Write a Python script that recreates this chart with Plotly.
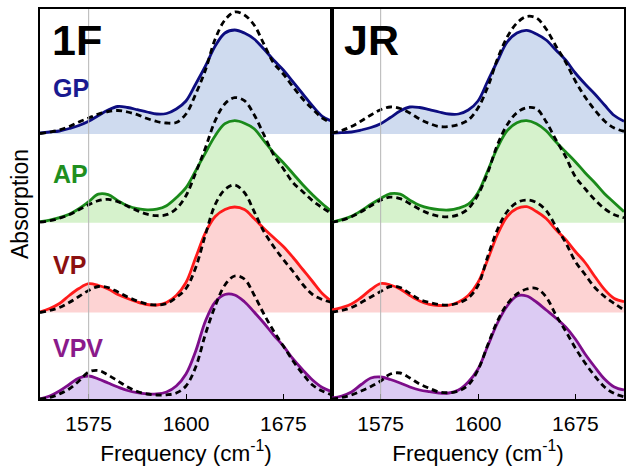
import plotly.graph_objects as go
from plotly.subplots import make_subplots

# Frequency grid (cm^-1)
freq = list(range(1550, 1701, 5))

panels = ["1F", "JR"]
series_names = ["GP", "AP", "VP", "VPV"]
tick_vals = [1575, 1625, 1675]
tick_text = ["1575", "1600", "1675"]

# Absorption (a.u.), solid = experiment, dashed = simulation
f1_gp_solid = [1, 2, 3, 5.5, 8.5, 12.7, 18.5, 24, 27.5, 26.5, 24.3, 22, 20, 20.5, 25, 33, 50, 68, 88, 101, 104, 101, 95, 85, 74, 64, 52, 40, 28, 17.7, 12.7]
f1_gp_dash = [0.5, 2, 4, 7.5, 12, 16, 20, 22.5, 23.5, 22, 19.3, 15.5, 12.5, 11, 11.5, 20, 40, 64, 95, 114, 122, 119, 109, 90, 71, 60, 47, 35, 25, 16, 11]
f1_ap_solid = [1, 2.5, 5, 8.5, 14, 21, 28.5, 28, 22, 17, 14, 12.8, 13.5, 17, 25, 35, 52, 70, 87, 99, 102, 99.5, 94, 82, 70, 60, 49, 38, 28, 19, 11]
f1_ap_dash = [0.5, 2, 4.5, 8, 13, 18, 22, 23.4, 21, 16.5, 12, 8.5, 7, 8, 14, 27, 50, 75, 102, 119, 125, 122, 108, 88, 68, 54, 40, 31, 22, 15, 9]
f1_vp_solid = [0.5, 4, 9, 17, 24, 28.8, 27, 23.5, 18, 14, 10.5, 8, 7.5, 10, 17, 30, 55, 80, 96, 103, 105.5, 103, 94, 84, 75, 66, 55, 43, 31, 19, 11]
f1_vp_dash = [0, 2, 5, 10, 16, 22, 26, 25, 20.5, 15.5, 11.5, 8.5, 7.5, 9, 15, 24, 45, 78, 108, 123, 127.5, 120, 101, 81, 66, 53, 41, 28, 18, 13, 10]
f1_vpv_solid = [0, 3, 8, 14.5, 21, 23, 20, 16, 12, 8.5, 6.3, 5.2, 5, 7, 13, 25, 48, 78, 97, 104.5, 104, 97.3, 87, 76, 64, 53, 40, 29, 19, 11.5, 7.3]
f1_vpv_dash = [0, 1.5, 5, 10, 18, 27, 28.5, 24, 18, 12, 7.5, 5, 4, 4.2, 6, 13, 32, 65, 93, 114, 123, 120, 104, 85, 68, 53, 38, 25, 14, 8, 4]

jr_gp_solid = [1, 1.3, 2, 4, 6.5, 10.3, 16.5, 23, 27, 26.5, 24.3, 22, 20, 20, 24, 33, 53, 73, 92, 101, 103.7, 100, 94, 84, 74, 61, 50, 40, 29, 18.5, 12.7]
jr_gp_dash = [1, 3.5, 7.5, 13, 19, 24.3, 27, 25.5, 21, 15, 10.5, 7.5, 7.5, 9.5, 14, 26, 47, 75, 97, 111, 117.5, 116, 105, 88, 72, 53, 37, 24, 13, 6, 2.7]
jr_ap_solid = [0.5, 3, 6.5, 12, 18.5, 24.3, 29, 28.5, 22.5, 17.5, 14.5, 13, 12.7, 14.5, 18.5, 30, 52, 75, 92, 100, 102, 99, 92, 81, 71, 61, 50, 40, 29, 20, 11]
jr_ap_dash = [0.5, 2.5, 6, 11, 17, 22.5, 25.5, 24, 19, 13.5, 9, 6.5, 6, 8, 14, 28, 50, 78, 98, 110, 115, 114, 101, 83, 66, 46, 34, 23, 14, 8, 5]
jr_vp_solid = [2.5, 5, 8.5, 15, 23, 29, 27.5, 23.5, 17, 11.5, 8.2, 7, 7.3, 10.5, 17, 30, 53, 78, 96, 104, 105.8, 101, 94, 83, 73, 61, 50, 36, 23, 14, 10.8]
jr_vp_dash = [0.5, 2, 5, 10, 15.5, 21, 26, 25, 19, 13, 10, 8, 7.5, 9.5, 14.5, 27, 56, 83, 101, 110, 112.5, 110, 102, 86, 70, 51, 38, 25, 16, 9, 2.5]
jr_vpv_solid = [1, 3, 7, 14.5, 21, 22, 19.5, 16, 12, 9, 7.3, 6, 6, 9, 17, 30, 53, 76, 93, 103, 103, 97, 89, 81, 72, 60, 45, 32, 20, 12, 9]
jr_vpv_dash = [0, 1.5, 4, 8, 12.5, 18, 25, 26, 21, 15, 10.7, 7, 6.3, 8, 14, 29, 54, 78, 95, 105, 110, 110.5, 102, 84, 68, 51, 36, 23, 12, 5.5, 2.3]

data = {
    "1F": [(f1_gp_solid, f1_gp_dash), (f1_ap_solid, f1_ap_dash), (f1_vp_solid, f1_vp_dash), (f1_vpv_solid, f1_vpv_dash)],
    "JR": [(jr_gp_solid, jr_gp_dash), (jr_ap_solid, jr_ap_dash), (jr_vp_solid, jr_vp_dash), (jr_vpv_solid, jr_vpv_dash)],
}

# styling
offsets = [265, 176.3, 86.5, 0]
line_colors = ["#0d0d80", "#1a8a1a", "#ff1a1a", "#7d0d8a"]
fill_colors = ["#cfdbef", "#d6f2cc", "#fdd3d3", "#dccbf3"]
label_colors = ["#1a1a90", "#1f8f1f", "#8b1010", "#8a1a8a"]
FONT = "Arial"

fig = make_subplots(rows=1, cols=2, horizontal_spacing=0, shared_yaxes=True)

for ci, panel in enumerate(panels):
    col = ci + 1
    for si, (solid, dash) in enumerate(data[panel]):
        off = offsets[si]
        fig.add_trace(go.Scatter(x=freq, y=[off] * len(freq), mode="lines",
                                 line=dict(width=0, color="rgba(0,0,0,0)"),
                                 hoverinfo="skip", showlegend=False), row=1, col=col)
        fig.add_trace(go.Scatter(x=freq, y=[off + v for v in solid], mode="lines",
                                 line=dict(color=line_colors[si], width=2.8, shape="spline"),
                                 fill="tonexty", fillcolor=fill_colors[si],
                                 name=series_names[si], showlegend=False), row=1, col=col)
        fig.add_trace(go.Scatter(x=freq, y=[off + v for v in dash], mode="lines",
                                 line=dict(color="black", width=2.8, dash="6px,4px", shape="spline"),
                                 name=series_names[si] + " sim", showlegend=False), row=1, col=col)

axis_common = dict(showline=True, mirror=True, linecolor="black", linewidth=1.5,
                   showgrid=False, zeroline=False, automargin=False)
for ci in range(2):
    xname = "xaxis" if ci == 0 else "xaxis2"
    fig.layout[xname].update(range=[1550, 1700], tickvals=tick_vals, ticktext=tick_text,
                             ticks="inside", ticklen=5, tickcolor="black", tickwidth=1,
                             ticklabelstandoff=5,
                             tickfont=dict(size=21, color="black", family=FONT),
                             title=dict(text="Frequency (cm<sup>-1</sup>)", standoff=11,
                                        font=dict(size=22.5, color="black", family=FONT)),
                             **axis_common)
fig.layout.yaxis.update(range=[0, 390], showticklabels=False, ticks="",
                        title=dict(text="Absorption", standoff=3,
                                   font=dict(size=23, color="black", family=FONT)),
                        **axis_common)
fig.layout.yaxis2.update(range=[0, 390], showticklabels=False, ticks="", **axis_common)

# gray reference line at 1575
for xr in ["x", "x2"]:
    fig.add_shape(type="line", xref=xr, yref="paper", x0=1575, x1=1575, y0=0, y1=1,
                  line=dict(color="#b5b5b5", width=1), layer="above")

# panel labels
for ci, panel in enumerate(panels):
    fig.add_annotation(text="<b>%s</b>" % panel, xref="x" if ci == 0 else "x2", yref="y",
                       x=1555, y=359, xanchor="left", yanchor="middle", showarrow=False,
                       font=dict(size=43, color="black", family=FONT))

label_y = [311, 225, 134, 51]
for si, name in enumerate(series_names):
    fig.add_annotation(text="<b>%s</b>" % name, xref="x", yref="y",
                       x=1555.5, y=label_y[si], xanchor="left", yanchor="middle", showarrow=False,
                       font=dict(size=25, color=label_colors[si], family=FONT))

fig.update_layout(width=635, height=471, margin=dict(l=40, r=11, t=9, b=72),
                  plot_bgcolor="white", paper_bgcolor="white", showlegend=False)

fig.write_html("out.html", config={"displayModeBar": False},
               post_script="document.body.style.margin='0px';document.body.style.overflow='hidden';")
